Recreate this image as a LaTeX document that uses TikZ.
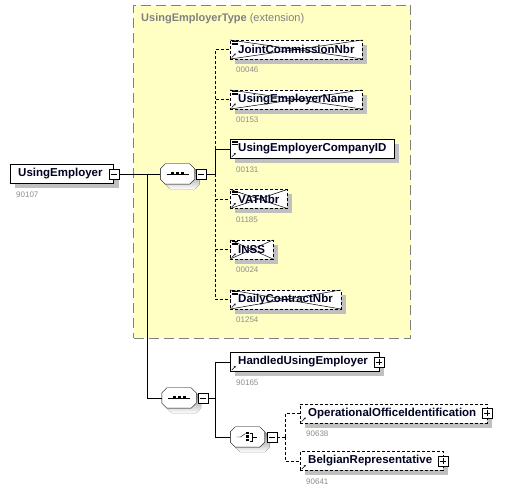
\documentclass[tikz,border=0pt]{standalone}
\usepackage{fontspec}
\setmainfont{Liberation Sans}
\usepackage{xcolor}
\usetikzlibrary{positioning,shadows,arrows.meta}

\definecolor{typebg}{HTML}{FFFFC4}
\definecolor{typeline}{HTML}{808080}
\definecolor{idgray}{HTML}{8C8C8C}
\definecolor{shade}{HTML}{C0C0C0}
\definecolor{nametext}{HTML}{000022}

% small marks drawn inside the element boxes
\newcommand\refmark{\draw[solid,line width=0.6pt,-{Stealth[length=2pt,width=2pt]}] ([shift={(1.5pt,1.5pt)}]path picture bounding box.south west) -- ++(4pt,4pt);}
\newcommand\linesmark{\foreach \k in {1.5,3,4.5} \draw[solid,line width=0.5pt] ([shift={(1.5pt,-\k pt)}]path picture bounding box.north west) -- ++(6pt,0pt);}
\newcommand\crossmark{\draw[solid,line width=0.5pt] (path picture bounding box.north west) -- (path picture bounding box.south east) (path picture bounding box.south west) -- (path picture bounding box.north east);}
% octagon frame of a compositor
\newcommand\octpath[2]{([#2,xshift=5pt]#1.north west) -- ([#2,xshift=-5pt]#1.north east) -- ([#2,yshift=-5pt]#1.north east)
  -- ([#2,yshift=5pt]#1.south east) -- ([#2,xshift=-5pt]#1.south east) -- ([#2,xshift=5pt]#1.south west)
  -- ([#2,yshift=5pt]#1.south west) -- ([#2,yshift=-5pt]#1.north west) -- cycle}
\newcommand\octframe[1]{\fill[shade] \octpath{#1}{shift={(5pt,-5pt)}}; \filldraw[fill=white] \octpath{#1}{shift={(0pt,0pt)}};}
\newcommand\seqicon[1]{\draw ([xshift=-11pt]#1.center) -- ([xshift=11pt]#1.center);
  \foreach \d in {-5,0,5} \fill ([shift={(\d pt-1.5pt,-1.5pt)}]#1.center) rectangle ([shift={(\d pt+1.5pt,1.5pt)}]#1.center);}
\newcommand\choiceicon[1]{\draw ([xshift=-11pt]#1.center) -- ([xshift=-7pt]#1.center) -- ([shift={(-2pt,3.5pt)}]#1.center);
  \draw ([shift={(2pt,4pt)}]#1.center) -- ([shift={(5pt,4pt)}]#1.center) -- ([shift={(5pt,-4pt)}]#1.center) -- ([shift={(2pt,-4pt)}]#1.center);
  \draw ([xshift=5pt]#1.center) -- ([xshift=9pt]#1.center);
  \fill ([shift={(-1.2pt,2.5pt)}]#1.center) rectangle ([shift={(1.2pt,4.5pt)}]#1.center);
  \fill ([shift={(-1.5pt,-1.5pt)}]#1.center) rectangle ([shift={(1.5pt,1.5pt)}]#1.center);
  \fill ([shift={(-1.2pt,-2.5pt)}]#1.center) rectangle ([shift={(1.2pt,-4.5pt)}]#1.center);}

\tikzset{
  shadowed/.style={drop shadow={shadow xshift=5pt,shadow yshift=-5pt,fill=shade,opacity=1}},
  elem/.style={draw,fill=white,anchor=west,minimum height=19pt,inner xsep=8pt,inner ysep=0pt,
    font=\fontsize{11.5}{13}\selectfont\bfseries,text=nametext,shadowed},
  simpletype/.style={elem,path picture={\linesmark\refmark}},
  reftype/.style={elem,path picture={\refmark}},
  banned/.style={elem,path picture={\crossmark\linesmark\refmark}},
  expandable/.style={execute at end node={\hspace{3pt}}},
  optional/.style={dash pattern=on 3pt off 2pt},
  idlabel/.style={anchor=north west,inner sep=0pt,font=\fontsize{8}{9}\selectfont,text=idgray},
  expminus/.style={draw,fill=white,minimum size=10pt,inner sep=0pt,
    path picture={\draw[solid] ([xshift=-3pt]path picture bounding box.center) -- ([xshift=3pt]path picture bounding box.center);}},
  expplus/.style={draw,fill=white,minimum size=10pt,inner sep=0pt,
    path picture={\draw[solid] ([xshift=-3pt]path picture bounding box.center) -- ([xshift=3pt]path picture bounding box.center)
      ([yshift=-3pt]path picture bounding box.center) -- ([yshift=3pt]path picture bounding box.center);}},
  compositor/.style={minimum width=34pt,minimum height=20pt,inner sep=0pt}
}

\begin{document}
\begin{tikzpicture}[x=1pt,y=-1pt]
  \useasboundingbox (0,0) rectangle (528,494);

  % base type of the element
  \node[draw=typeline,fill=typebg,line width=1pt,dash pattern=on 10pt off 5pt,anchor=north west,
    minimum width=277pt,minimum height=333pt] (ext) at (133,5) {};
  \node[anchor=west,inner sep=0pt,text=typeline,font=\fontsize{11}{13}\selectfont] (ext-title) at (141,19)
    {\textbf{UsingEmployerType} (extension)};

  \node[elem,expandable] (ue) at (10,174) {UsingEmployer};
  \node[expminus] (ue-exp) at (ue.east) {};
  \node[idlabel] at ([shift={(6pt,-8pt)}]ue.south west) {90107};

  \node[compositor] (seq1) at (177.5,174) {};
  \octframe{seq1} \seqicon{seq1}
  \node[expminus,right=1pt of seq1] (seq1-exp) {};

  \node[banned,optional] (jcn) at (230,49.5) {JointCommissionNbr};
  \node[idlabel] at ([shift={(6pt,-8pt)}]jcn.south west) {00046};
  \node[banned,optional] (uename) at (230,99.5) {UsingEmployerName};
  \node[idlabel] at ([shift={(6pt,-8pt)}]uename.south west) {00153};
  \node[simpletype] (ueid) at (230,149) {UsingEmployerCompanyID};
  \node[idlabel] at ([shift={(6pt,-8pt)}]ueid.south west) {00131};
  \node[banned,optional] (vat) at (230,199) {VATNbr};
  \node[idlabel] at ([shift={(6pt,-8pt)}]vat.south west) {01185};
  \node[banned,optional] (inss) at (230,249.5) {INSS};
  \node[idlabel] at ([shift={(6pt,-8pt)}]inss.south west) {00024};
  \node[banned,optional] (daily) at (230,299.5) {DailyContractNbr};
  \node[idlabel] at ([shift={(6pt,-8pt)}]daily.south west) {01254};

  \node[compositor] (seq2) at (179,398) {};
  \octframe{seq2} \seqicon{seq2}
  \node[expminus,right=2pt of seq2] (seq2-exp) {};

  \node[reftype,expandable] (handled) at (230,362) {HandledUsingEmployer};
  \node[expplus] (handled-exp) at (handled.east) {};
  \node[idlabel] at ([shift={(6pt,-8pt)}]handled.south west) {90165};

  \node[compositor] (choice1) at (247.5,437) {};
  \octframe{choice1} \choiceicon{choice1}
  \node[expminus,right=2pt of choice1] (choice1-exp) {};

  \node[reftype,optional,expandable] (opoffice) at (300,413.5) {OperationalOfficeIdentification};
  \node[expplus] (opoffice-exp) at (opoffice.east) {};
  \node[idlabel] at ([shift={(6pt,-8pt)}]opoffice.south west) {90638};
  \node[reftype,optional,expandable] (belgian) at (300,461) {BelgianRepresentative};
  \node[expplus] (belgian-exp) at (belgian.east) {};
  \node[idlabel] at ([shift={(6pt,-8pt)}]belgian.south west) {90641};

  \coordinate (fork1) at (147,174);
  \coordinate (fork2) at (215,174);
  \coordinate (fork3) at (215,398);
  \coordinate (fork4) at (285,437);

  \draw (ue-exp.east) -- (seq1.west);
  \draw (fork1) |- (seq2.west);
  \draw (seq1-exp.east) -- (fork2);
  \draw[optional] (fork2) |- (jcn.west);
  \draw[optional] (fork2) |- (uename.west);
  \draw[optional] (fork2) |- (vat.west);
  \draw[optional] (fork2) |- (inss.west);
  \draw[optional] (fork2) |- (daily.west);
  \draw (fork2) |- (ueid.west);
  \draw (seq2-exp.east) -- (fork3);
  \draw (fork3) |- (handled.west);
  \draw (fork3) |- (choice1.west);
  \draw[optional] (choice1-exp.east) -- (fork4);
  \draw[optional] (fork4) |- (opoffice.west);
  \draw[optional] (fork4) |- (belgian.west);
\end{tikzpicture}
\end{document}
